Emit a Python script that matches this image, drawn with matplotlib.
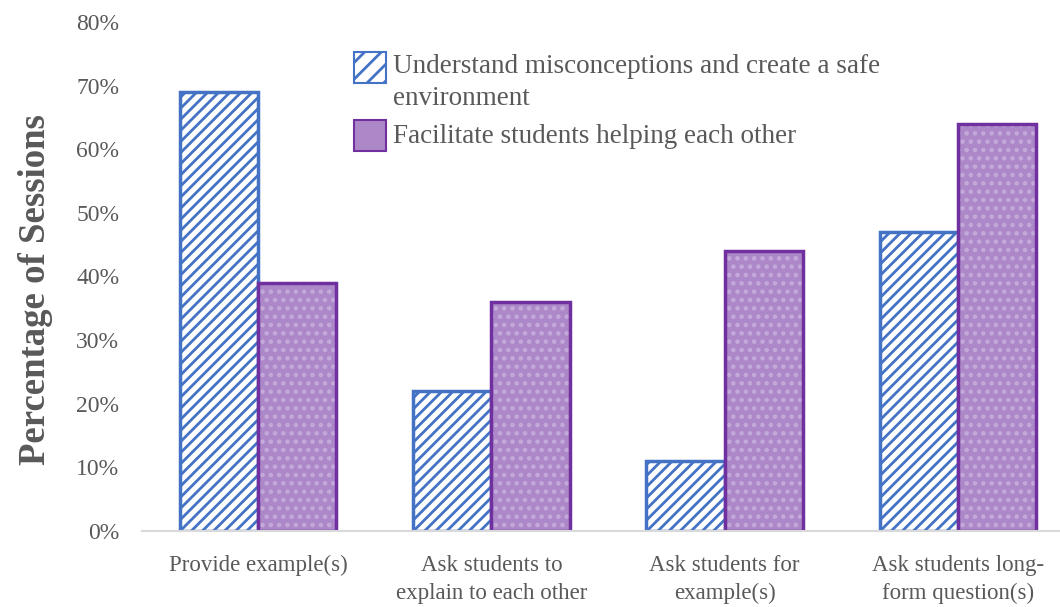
import numpy as np
import matplotlib.pyplot as plt
from matplotlib.patches import Rectangle
from matplotlib.ticker import PercentFormatter

categories = ["Provide example(s)", "Ask students to\nexplain to each other",
              "Ask students for\nexample(s)", "Ask students long-\nform question(s)"]
understand = [0.69, 0.22, 0.11, 0.47]
facilitate = [0.39, 0.36, 0.44, 0.64]
series_names = ["Understand misconceptions and create a safe\nenvironment",
                "Facilitate students helping each other"]

plt.rcParams['font.family'] = ['Liberation Serif', 'DejaVu Serif']
plt.rcParams['hatch.linewidth'] = 2.0

W, H = 1060, 607
fig = plt.figure(figsize=(W / 100, H / 100), dpi=100)
ax = fig.add_axes([141.5 / W, 76 / H, 933 / W, 509 / H])

x = np.arange(len(categories))
w = 0.335

blue = "#4472C4"
purple_edge = "#7030A0"
purple_fill = "#AC88C8"
text_col = "#595959"

ax.bar(x - w / 2, understand, w, facecolor="white", edgecolor=blue,
       hatch="///", linewidth=2.5)
ax.bar(x + w / 2, facilitate, w, facecolor=purple_fill, edgecolor="#C4AADA",
       hatch="..", linewidth=0)
ax.bar(x + w / 2, facilitate, w, fill=False, edgecolor=purple_edge,
       linewidth=2.5)

ax.set_xlim(-0.5, 3.5)
ax.set_ylim(0, 0.8)
ax.set_yticks(np.arange(0, 0.81, 0.1))
ax.yaxis.set_major_formatter(PercentFormatter(1.0, decimals=0))
ax.set_xticks(x)
ax.set_xticklabels(categories, linespacing=1.45)
ax.tick_params(length=0, colors=text_col)
ax.tick_params(axis='x', labelsize=16.5, pad=17)
ax.tick_params(axis='y', labelsize=17, pad=16)

for s in ["top", "right", "left"]:
    ax.spines[s].set_visible(False)
ax.spines["bottom"].set_color("#D9D9D9")
ax.spines["bottom"].set_linewidth(1.5)

ax.set_ylabel("Percentage of Sessions", fontsize=26.5, fontweight="bold",
              color=text_col)
ax.yaxis.set_label_coords(-0.095, 0.475)

# legend drawn by hand so the swatch sits next to the first line
def fx(px):
    return px / W

def fy(py):
    return 1 - py / H

fig.patches.append(Rectangle((fx(354), fy(83)), 32 / W, 31 / H,
                             transform=fig.transFigure, facecolor="white",
                             edgecolor=blue, hatch="//", linewidth=1.5))
fig.patches.append(Rectangle((fx(354), fy(151)), 32 / W, 31 / H,
                             transform=fig.transFigure, facecolor=purple_fill,
                             edgecolor=purple_edge, linewidth=1.5))
lines1 = series_names[0].split("\n")
fig.text(fx(393), fy(73), lines1[0], fontsize=19.5, color=text_col, va="baseline")
fig.text(fx(393), fy(105), lines1[1], fontsize=19.5, color=text_col, va="baseline")
fig.text(fx(393), fy(143), series_names[1], fontsize=19.5, color=text_col,
         va="baseline")

fig.savefig("out.png", dpi=100)
